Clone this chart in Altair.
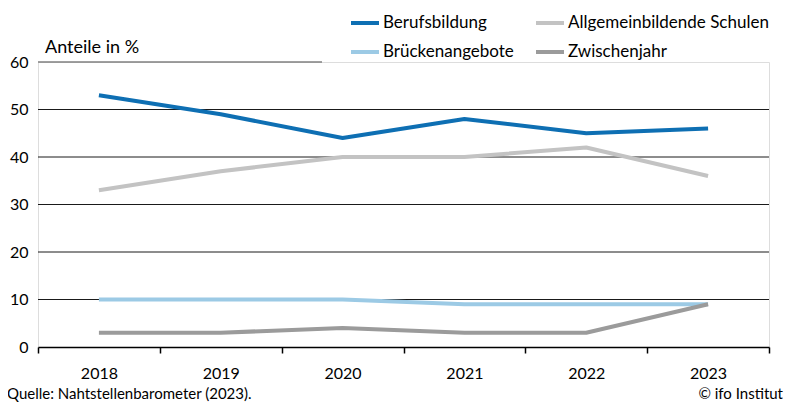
import altair as alt
import pandas as pd

years = ["2018", "2019", "2020", "2021", "2022", "2023"]
series_names = ["Berufsbildung", "Allgemeinbildende Schulen", "Brückenangebote", "Zwischenjahr"]
berufsbildung = [53, 49, 44, 48, 45, 46]
allgemein = [33, 37, 40, 40, 42, 36]
bruecken = [10, 10, 10, 9, 9, 9]
zwischenjahr = [3, 3, 4, 3, 3, 9]
colors = ["#0e6fb3", "#c3c3c3", "#9ccae5", "#9b9b9b"]
grid_values = [10, 20, 30, 40, 50]
y_ticks = [0, 10, 20, 30, 40, 50, 60]

rows = []
for name, vals in zip(series_names, [berufsbildung, allgemein, bruecken, zwischenjahr]):
    for y, v in zip(years, vals):
        rows.append({"year": y, "value": v, "series": name})
df = pd.DataFrame(rows)

FONT = "Lato"
W, H = 731, 285

xscale = alt.Scale(type="band", paddingInner=0, paddingOuter=0, domain=years)
yscale = alt.Scale(domain=[0, 60], nice=False)

grid = alt.Chart(pd.DataFrame({"v": grid_values})).mark_rule(color="#1a1a1a", strokeWidth=1).encode(
    y=alt.Y("v:Q", scale=yscale), x=alt.value(0), x2=alt.value(W)
)
top_line = alt.Chart(pd.DataFrame({"v": [60]})).mark_rule(color="#808080", strokeWidth=1.5).encode(
    y=alt.Y("v:Q", scale=yscale), x=alt.value(0), x2=alt.value(284)
)
unit_text = alt.Chart(pd.DataFrame({"v": [60], "t": ["Anteile in %"]})).mark_text(
    align="left", baseline="bottom", dx=7, dy=-5, font=FONT, fontSize=18, color="#000"
).encode(y=alt.Y("v:Q", scale=yscale), x=alt.value(0), text="t:N")

lines = alt.Chart(df).mark_line(strokeWidth=4, strokeJoin="round", strokeCap="butt").encode(
    x=alt.X("year:O", scale=xscale, bandPosition=0.5,
            axis=alt.Axis(title=None, tickBand="extent", labelAngle=0, labelFont=FONT,
                          labelFontSize=16, labelColor="#000", domainColor="#000", tickColor="#000",
                          tickSize=6, labelPadding=12, domainWidth=1.5, tickWidth=1.5)),
    y=alt.Y("value:Q", scale=yscale,
            axis=alt.Axis(title=None, values=y_ticks, grid=False, ticks=False, domain=False,
                          labelFont=FONT, labelFontSize=16, labelColor="#000", labelPadding=10)),
    color=alt.Color("series:N", scale=alt.Scale(domain=series_names, range=colors),
                    sort=series_names,
                    legend=alt.Legend(title=None, orient="none", legendX=311, legendY=-55, columns=2,
                                      symbolType="stroke", symbolSize=784, symbolStrokeWidth=4,
                                      labelFont=FONT, labelFontSize=17, labelColor="#000",
                                      labelOffset=2, columnPadding=14, rowPadding=5,
                                      labelLimit=400, direction="horizontal")),
    order=alt.Order("year:O"),
)

caption_l = alt.Chart(pd.DataFrame({"t": ["Quelle: Nahtstellenbarometer (2023)."]})).mark_text(
    align="left", baseline="middle", font=FONT, fontSize=15, color="#000"
).encode(x=alt.value(-31), y=alt.value(332), text="t:N")
caption_r = alt.Chart(pd.DataFrame({"t": ["© ifo Institut"]})).mark_text(
    align="right", baseline="middle", font=FONT, fontSize=15, color="#000"
).encode(x=alt.value(745), y=alt.value(332), text="t:N")

chart = alt.layer(grid, top_line, unit_text, lines, caption_l, caption_r).properties(
    width=W, height=H,
    autosize=alt.AutoSizeParams(type="none"),
    padding={"left": 30, "top": 54, "right": 15, "bottom": 57},
).configure_view(stroke=None).configure(background="white")

chart.save("out.html", embed_options={"renderer": "svg", "actions": False})
